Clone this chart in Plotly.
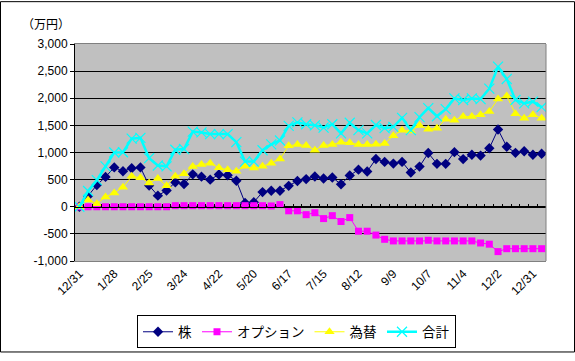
import plotly.graph_objects as go

dates = ["12/31", "1/7", "1/14", "1/21", "1/28", "2/4", "2/11", "2/18", "2/25", "3/3",
         "3/10", "3/17", "3/24", "3/31", "4/7", "4/14", "4/22", "4/29", "5/6", "5/13",
         "5/20", "5/27", "6/3", "6/10", "6/17", "6/24", "7/1", "7/8", "7/15", "7/22",
         "7/29", "8/5", "8/12", "8/19", "8/26", "9/2", "9/9", "9/16", "9/23", "9/30",
         "10/7", "10/14", "10/21", "10/28", "11/4", "11/11", "11/18", "11/25", "12/2", "12/9",
         "12/16", "12/23", "12/31", "1/7"]

kabu = [0, 200, 400, 550, 725, 655, 710, 725, 390, 205,
        300, 450, 418, 597, 555, 500, 594, 582, 480, 70,
        85, 270, 295, 295, 385, 475, 510, 558, 522, 540,
        415, 576, 684, 650, 881, 827, 795, 827, 630, 740,
        990, 791, 791, 1006, 878, 958, 943, 1078, 1424, 1107,
        994, 1024, 958, 976]

option = [0, 0, 0, 0, 0, 0, 0, 0, 0, 0,
          0, 20, 20, 20, 20, 20, 20, 20, 20, 20,
          20, 20, 15, 39, -75, -75, -146, -110, -218, -164,
          -272, -200, -451, -451, -522, -600, -630, -630, -630, -630,
          -618, -630, -630, -630, -630, -630, -668, -690, -827, -773,
          -773, -773, -773, -773]

kawase = [0, 125, 55, 180, 255, 360, 560, 535, 440, 520,
          385, 560, 610, 740, 780, 800, 720, 680, 655, 745,
          715, 745, 803, 880, 1125, 1146, 1131, 1042, 1131, 1146,
          1191, 1180, 1146, 1146, 1150, 1165, 1310, 1412, 1395, 1500,
          1430, 1448, 1615, 1595, 1662, 1662, 1698, 1758, 1985, 2042,
          1713, 1630, 1698, 1633]

goukei = [0, 290, 490, 745, 1000, 1005, 1255, 1270, 895, 760,
          745, 1050, 1065, 1385, 1370, 1340, 1340, 1340, 1191, 833,
          833, 1042, 1149, 1221, 1490, 1555, 1520, 1501, 1460, 1520,
          1352, 1549, 1412, 1352, 1507, 1448, 1472, 1639, 1412, 1651,
          1818, 1668, 1800, 1997, 1967, 1997, 1985, 2176, 2582, 2355,
          1967, 1907, 1937, 1836]

y_ticks = [-1000, -500, 0, 500, 1000, 1500, 2000, 2500, 3000]
y_ticktext = ["-1,000", "-500", "0", "500", "1,000", "1,500", "2,000", "2,500", "3,000"]

x = list(range(len(dates)))
label_idx = x[::4]
label_txt = [dates[i] for i in label_idx]

W, H = 575, 361
L, R, T, B = 75, 29, 44, 94
pw, ph = W - L - R, H - T - B

fig = go.Figure()
fig.add_trace(go.Scatter(x=x, y=kabu, name="株", mode="lines+markers",
                         line=dict(color="#000080", width=1),
                         marker=dict(symbol="diamond", size=8, color="#000080")))
fig.add_trace(go.Scatter(x=x, y=option, name="オプション", mode="lines+markers",
                         line=dict(color="#FF00FF", width=1),
                         marker=dict(symbol="square", size=7, color="#FF00FF")))
fig.add_trace(go.Scatter(x=x, y=kawase, name="為替", mode="lines+markers",
                         line=dict(color="#FFFF00", width=1),
                         marker=dict(symbol="triangle-up", size=9, color="#FFFF00")))
fig.add_trace(go.Scatter(x=x, y=goukei, name="合計", mode="lines+markers",
                         line=dict(color="#00FFFF", width=2.5),
                         marker=dict(symbol="x-thin-open", size=10,
                                     line=dict(color="#00FFFF", width=1.2))))
fig.add_trace(go.Scatter(x=[None], y=[None], xaxis="x2", showlegend=False,
                         hoverinfo="skip"))

xr = [-0.5, len(dates) - 0.5]
zero_pos = (0 - y_ticks[0]) / (y_ticks[-1] - y_ticks[0])

fig.update_layout(
    width=W, height=H,
    margin=dict(l=L, r=R, t=T, b=B, pad=0),
    paper_bgcolor="white",
    plot_bgcolor="#C0C0C0",
    font=dict(family="Liberation Sans, Arial, sans-serif", size=12, color="black"),
    xaxis=dict(range=xr, tickmode="array", tickvals=label_idx, ticktext=label_txt,
               tickangle=-45, showgrid=False, zeroline=False,
               showline=True, linecolor="#808080", linewidth=1, mirror=True,
               ticks="", tickfont=dict(size=12)),
    xaxis2=dict(range=xr, overlaying="x", anchor="free", position=zero_pos,
                side="bottom", showgrid=False, zeroline=False, showticklabels=False,
                showline=True, linecolor="black", linewidth=1,
                tickmode="linear", tick0=-0.5, dtick=1,
                ticks="inside", ticklen=3, tickcolor="black", tickwidth=1),
    yaxis=dict(range=[y_ticks[0], y_ticks[-1]], tickmode="array", tickvals=y_ticks,
               ticktext=y_ticktext, showgrid=True, gridcolor="black", gridwidth=1,
               zeroline=False, showline=True, linecolor="black", linewidth=1,
               ticks="outside", ticklen=4, tickcolor="black", tickfont=dict(size=12)),
    legend=dict(orientation="h", x=(137 - L) / pw, y=1 - (323 - T) / ph,
                xanchor="left", yanchor="top", bgcolor="white",
                bordercolor="black", borderwidth=1,
                font=dict(family="Noto Sans CJK JP", size=13.5),
                itemwidth=30, tracegroupgap=0),
    showlegend=True,
    annotations=[dict(text="（万円）", x=(20 - L) / pw, y=1 - (23 - T) / ph,
                      xref="paper", yref="paper", xanchor="left", yanchor="middle",
                      showarrow=False, font=dict(family="Noto Sans CJK JP", size=12))],
    shapes=[
        dict(type="line", xref="paper", yref="paper", x0=1, x1=1, y0=0, y1=1,
             line=dict(color="#808080", width=1)),
        dict(type="rect", xref="paper", yref="paper",
             x0=(0.5 - L) / pw, x1=1 + (R - 0.5) / pw,
             y0=-(B - 0.5) / ph, y1=1 + (T - 0.5) / ph,
             line=dict(color="black", width=1)),
    ],
)

fig.write_html("out.html", config={"displayModeBar": False},
               post_script="document.body.style.margin='0';document.body.style.overflow='hidden';")
